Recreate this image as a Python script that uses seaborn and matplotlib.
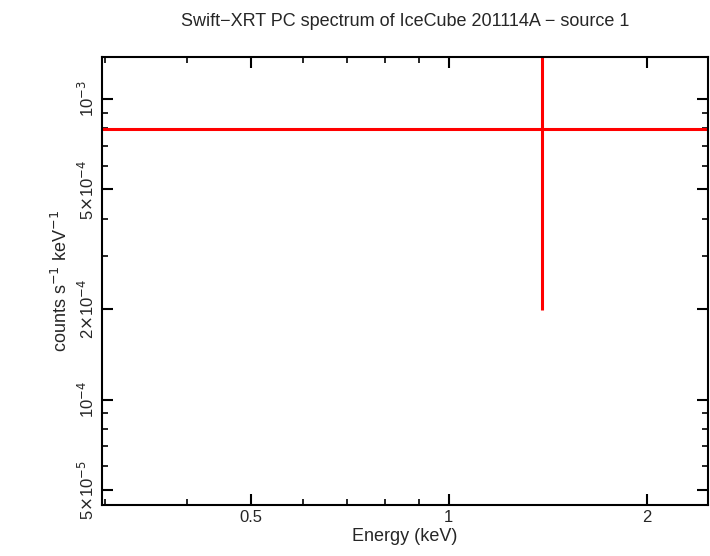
import matplotlib
matplotlib.use("Agg")
import matplotlib.pyplot as plt
import seaborn as sns
import numpy as np
from matplotlib.ticker import FixedLocator, NullFormatter, LogLocator

# spectrum bins (single bin)
energy = [1.385]
energy_lo = [0.25]
energy_hi = [3.0]
rate = [7.95e-4]
rate_lo = [1.99e-4]
rate_hi = [2.0e-3]

xticks = [0.5, 1, 2]
xticklabels = ["0.5", "1", "2"]
yticks = [5e-5, 1e-4, 2e-4, 5e-4, 1e-3]
yticklabels = [r"5$\times$10$^{-5}$", r"10$^{-4}$", r"2$\times$10$^{-4}$",
               r"5$\times$10$^{-4}$", r"10$^{-3}$"]

sns.set_theme(style="ticks")
plt.rcParams["font.family"] = "Liberation Sans"

fig = plt.figure(figsize=(7.1, 5.56), dpi=100)
ax = fig.add_axes([102 / 710, 1 - 505 / 556, 606 / 710, 448 / 556])

x = np.array(energy)
y = np.array(rate)
ax.errorbar(x, y,
            xerr=[x - np.array(energy_lo), np.array(energy_hi) - x],
            yerr=[y - np.array(rate_lo), np.array(rate_hi) - y],
            fmt="none", ecolor="red", elinewidth=2.2, capsize=0)

ax.set_xscale("log")
ax.set_yscale("log")
ax.set_xlim(0.297, 2.48)
ax.set_ylim(4.46e-5, 1.379e-3)

ax.xaxis.set_major_locator(FixedLocator(xticks))
ax.set_xticklabels(xticklabels)
ax.xaxis.set_minor_locator(LogLocator(base=10, subs=np.arange(2, 10) * 0.1 * 10))
ax.xaxis.set_minor_formatter(NullFormatter())
ax.yaxis.set_major_locator(FixedLocator(yticks))
ax.set_yticklabels(yticklabels, rotation=90, va="center")
ax.yaxis.set_minor_locator(LogLocator(base=10, subs=np.arange(2, 10)))
ax.yaxis.set_minor_formatter(NullFormatter())

ax.tick_params(which="both", direction="in", top=True, right=True, color="black", labelsize=12)
ax.tick_params(which="major", length=8, width=1.5)
ax.tick_params(which="minor", length=4, width=1.2)
for s in ax.spines.values():
    s.set_linewidth(1.5)
    s.set_color("black")

ax.set_xlabel("Energy (keV)", fontsize=13, labelpad=2)
ax.set_ylabel(r"counts s$^{-1}$ keV$^{-1}$", fontsize=13)
ax.set_title("Swift\u2212XRT PC spectrum of IceCube 201114A \u2212 source 1", fontsize=13, pad=22)

fig.savefig("out.png", dpi=100)
